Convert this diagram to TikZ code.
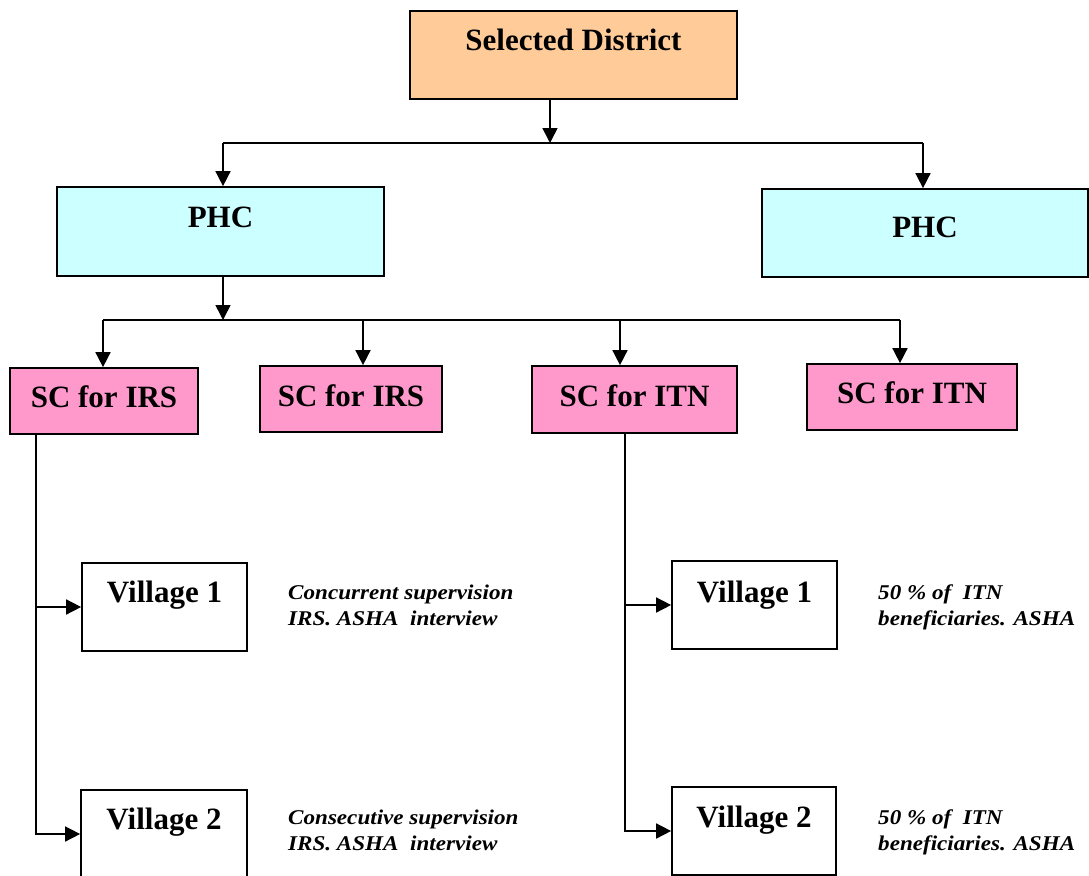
\documentclass[tikz,border=0pt]{standalone}
\usepackage{fontspec}
\setmainfont{Liberation Serif}
\newfontfamily\notefont[FakeStretch=1.1]{Liberation Serif}
\usetikzlibrary{arrows.meta}
\definecolor{peach}{HTML}{FFCC99}
\definecolor{paleblue}{HTML}{CCFFFF}
\definecolor{pinkbox}{HTML}{FF99CC}
\begin{document}
\begin{tikzpicture}[x=1pt,y=-1pt,
  box/.style={draw=black, line width=1.7pt, inner sep=0pt, align=center,
    font=\fontsize{31}{36}\selectfont\bfseries},
  tb/.style 2 args={text height=#1pt, text depth=#2pt},
  conn/.style={line width=1.6pt},
  arr/.style={line width=1.6pt, -{Triangle[width=15pt,length=15pt]}},
  note/.style={inner sep=0pt, align=left, anchor=base west,
    font=\notefont\fontsize{21}{26}\selectfont\bfseries\itshape}
]
\useasboundingbox (0,0) rectangle (1089,875);

% boxes
\node[box, fill=peach, minimum width=327pt, tb={40}{48}] (sd) at (573.5,55) {Selected District};
\node[box, fill=paleblue, minimum width=327pt, tb={40}{49}] (phcL) at (220.5,231.5) {PHC};
\node[box, fill=paleblue, minimum width=326pt, tb={48}{40}] (phcR) at (925,233) {PHC};

\node[box, fill=pinkbox, minimum width=188pt, tb={39}{27}] (sc1) at (104,401) {SC for IRS};
\node[box, fill=pinkbox, minimum width=182pt, tb={40}{26}] (sc2) at (351,399) {SC for IRS};
\node[box, fill=pinkbox, minimum width=205pt, tb={40}{27}] (sc3) at (634.5,399.5) {SC for ITN};
\node[box, fill=pinkbox, minimum width=210pt, tb={39}{27}] (sc4) at (912,397) {SC for ITN};

\node[box, fill=white, minimum width=165pt, tb={39}{49}] (v1L) at (164.5,607) {Village 1};
\node[box, fill=white, minimum width=166pt, tb={39}{49}] (v2L) at (164,834) {Village 2};
\node[box, fill=white, minimum width=165pt, tb={41}{47}] (v1R) at (754.5,605) {Village 1};
\node[box, fill=white, minimum width=164pt, tb={40}{48}] (v2R) at (754,831) {Village 2};

% notes (anchor = baseline of the last line)
\node[note] (n1) at (288,625) {Concurrent supervision\\IRS. ASHA\ \ interview};
\node[note] (n2) at (288,850) {Consecutive supervision\\IRS. ASHA\ \ interview};
\node[note] (n3) at (878,625) {50 \% of\ \ ITN\\beneficiaries. ASHA};
\node[note] (n4) at (878,850) {50 \% of\ \ ITN\\beneficiaries. ASHA};

% junction coordinates
\coordinate (j1) at (550,143);
\coordinate (p1) at (223,143);
\coordinate (p2) at (923,143);
\coordinate (j2) at (223,320);
\coordinate (t1) at (103,320);
\coordinate (t2) at (363,320);
\coordinate (t3) at (620,320);
\coordinate (t4) at (900,320);
\coordinate (l1) at (36,0);
\coordinate (r1) at (625,0);

% connectors: district to PHCs
\draw[arr] (sd.south -| j1) -- (j1);
\draw[conn] (p1) -- (p2);
\draw[arr] (p1) -- (p1 |- phcL.north);
\draw[arr] (p2) -- (p2 |- phcR.north);

% PHC to SCs
\draw[arr] (phcL.south -| j2) -- (j2);
\draw[conn] (t1) -- (t4);
\draw[arr] (t1) -- (t1 |- sc1.north);
\draw[arr] (t2) -- (t2 |- sc2.north);
\draw[arr] (t3) -- (t3 |- sc3.north);
\draw[arr] (t4) -- (t4 |- sc4.north);

% SCs to villages
\draw[arr] (sc1.south -| l1) |- (v2L.west);
\draw[arr] (v1L.west -| l1) -- (v1L.west);
\draw[arr] (sc3.south -| r1) |- (v2R.west);
\draw[arr] (v1R.west -| r1) -- (v1R.west);
\end{tikzpicture}
\end{document}
